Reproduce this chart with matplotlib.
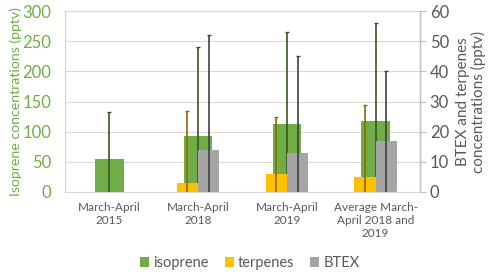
import matplotlib
matplotlib.use('Agg')
import matplotlib.pyplot as plt
import numpy as np

plt.rcParams['font.family'] = ['Lato', 'DejaVu Sans']

# data
categories = ['March-April\n2015', 'March-April\n2018', 'March-April\n2019',
              'Average March-\nApril 2018 and\n2019']
isoprene = [55, 93, 113, 117]
isoprene_err = [77, 147, 152, 163]
terpenes = [0, 3, 6, 5]
terpenes_err = [0, 24, 19, 24]
btex = [0, 14, 13, 17]
btex_err = [0, 38, 32, 23]

green = '#70AD47'
yellow = '#FFC000'
grey = '#A5A5A5'
txt = '#595959'

x = np.arange(len(categories))

fig = plt.figure(figsize=(5, 2.77), dpi=100)
ax1 = fig.add_axes([0.13, 0.307, 0.71, 0.653])
ax2 = ax1.twinx()

ax1.bar(x, isoprene, width=0.32, color=green, label='isoprene', zorder=2)
ax1.errorbar(x, isoprene, yerr=isoprene_err, fmt='none', ecolor='#375623',
             elinewidth=1.2, capsize=1.5, zorder=3)

# secondary series, skip the 2015 group (no data)
x2 = x[1:]
ax2.bar(x2 - 0.12, terpenes[1:], width=0.24, color=yellow, label='terpenes', zorder=2)
ax2.bar(x2 + 0.12, btex[1:], width=0.24, color=grey, label='BTEX', zorder=2)
ax2.errorbar(x2 - 0.12, terpenes[1:], yerr=terpenes_err[1:], fmt='none',
             ecolor='#8C6A00', elinewidth=1.2, capsize=1.5, zorder=3)
ax2.errorbar(x2 + 0.12, btex[1:], yerr=btex_err[1:], fmt='none',
             ecolor='#404040', elinewidth=1.2, capsize=1.5, zorder=3)

ax1.set_xlim(-0.5, 3.5)
ax1.set_ylim(0, 300)
ax1.set_yticks(range(0, 301, 50))
ax2.set_ylim(0, 60)
ax2.set_yticks(range(0, 61, 10))

ax1.grid(axis='y', color='#D9D9D9', linewidth=0.8, zorder=0)
ax1.set_axisbelow(True)

ax1.set_xticks(x)
ax1.set_xticklabels(categories, fontsize=8.5, color=txt, linespacing=1.25)
ax1.tick_params(axis='x', length=0, pad=7)
ax1.tick_params(axis='y', length=0, labelsize=12, colors=green, pad=10)
ax2.tick_params(axis='y', length=4, labelsize=12, colors=txt, pad=3, color='#BFBFBF')

ax1.set_ylabel('Isoprene concentrations (pptv)', color=green, fontsize=10.2)
ax1.yaxis.set_label_coords(-0.122, 0.5)
ax2.set_ylabel('BTEX and terpenes\nconcentrations (pptv)', color=txt, fontsize=11,
               labelpad=5, linespacing=1.05)

for ax in (ax1, ax2):
    ax.spines['top'].set_visible(False)
ax1.spines['left'].set_color('#C5E0B4')
ax1.spines['bottom'].set_color('#D9D9D9')
ax2.spines['left'].set_visible(False)
ax2.spines['bottom'].set_visible(False)
ax2.spines['right'].set_color('#BFBFBF')

h1, l1 = ax1.get_legend_handles_labels()
h2, l2 = ax2.get_legend_handles_labels()
fig.legend(h1 + h2, l1 + l2, loc='center', bbox_to_anchor=(0.5, 0.05), ncol=3,
           frameon=False, fontsize=10.5, handlelength=0.6, handleheight=0.6,
           handletextpad=0.3, columnspacing=1.1, labelcolor=txt)

fig.savefig('out.png', dpi=100)
